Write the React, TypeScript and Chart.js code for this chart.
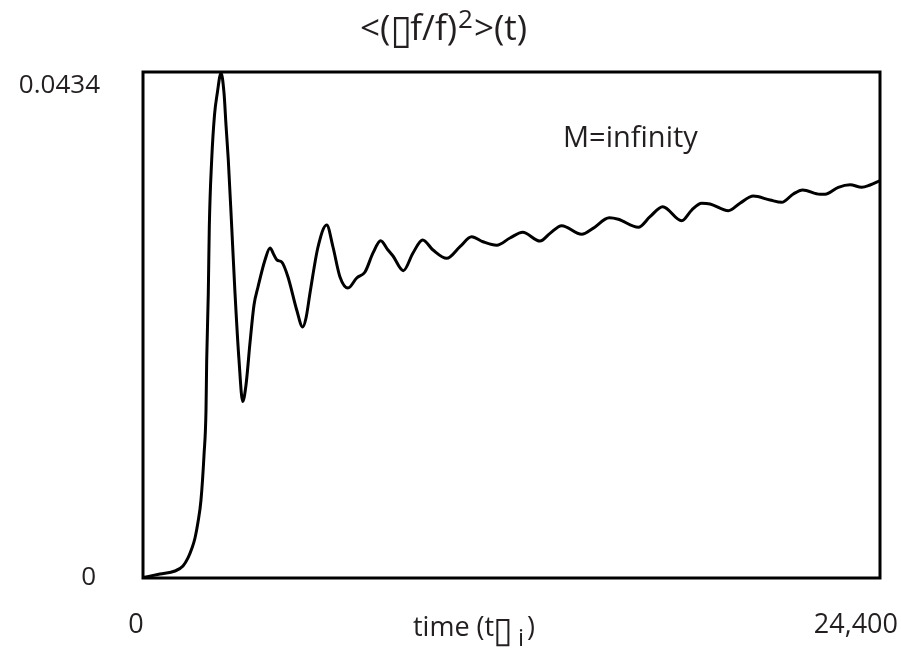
import React, { useEffect, useRef } from "react";
import { Chart, registerables } from "chart.js";

Chart.register(...registerables);

// time (in units of 1/omega_i)
const times: number[] = [
  0, 563, 1059, 1324, 1490, 1622, 1722, 1821, 1920, 2020, 2086, 2109, 2162, 2195, 2274, 2367,
  2460, 2583, 2682, 2748, 2824, 2937, 3046, 3178, 3301, 3410, 3542, 3675, 3807, 4039, 4205,
  4337, 4436, 4592, 4800, 5089, 5287, 5397, 5529, 5794, 6082, 6290, 6522, 6787, 7075, 7350,
  7615, 7869, 8111, 8277, 8618, 8939, 9260, 9601, 10055, 10495, 10882, 11256, 11710, 12150,
  12571, 13144, 13475, 13862, 14524, 14898, 15438, 15736, 16398, 16786, 17206, 17835, 18166,
  18497, 18772, 19378, 19765, 20206, 20759, 21146, 21530, 21841, 22414, 22580, 23020, 23408,
  23795, 24070, 24400,
];

// <(delta f / f)^2>
const fluct: number[] = [
  0.00004, 0.00034, 0.0006, 0.00103, 0.00172, 0.00257, 0.00343, 0.0048, 0.00669, 0.01055,
  0.01441, 0.0187, 0.02444, 0.03011, 0.03585, 0.03971, 0.0416, 0.04331, 0.0416, 0.03885,
  0.03585, 0.03011, 0.02444, 0.0187, 0.01514, 0.01655, 0.02016, 0.02342, 0.02496, 0.02727,
  0.0283, 0.0277, 0.02727, 0.0271, 0.02582, 0.02299, 0.02153, 0.0223, 0.02444, 0.02839,
  0.03028, 0.02839, 0.02582, 0.02487, 0.02573, 0.02625, 0.02788, 0.02893, 0.02813, 0.02762,
  0.02636, 0.02788, 0.02899, 0.02813, 0.02742, 0.02842, 0.02927, 0.02884, 0.02854, 0.02916,
  0.02965, 0.0289, 0.02956, 0.03022, 0.02948, 0.02999, 0.0309, 0.03077, 0.03008, 0.03099,
  0.03185, 0.03065, 0.03156, 0.03214, 0.03208, 0.0315, 0.03214, 0.03276, 0.03242, 0.03222,
  0.03294, 0.03328, 0.03291, 0.03291, 0.03351, 0.03373, 0.03351, 0.03371, 0.03409,
];

const xTickValues: number[] = [0, 24400];
const xTickLabels: string[] = ["0", "24,400"];
const yTickValues: number[] = [0, 0.0434];
const yTickLabels: string[] = ["0", "0.0434"];

const BOX = "\u25AF";
const TEXT_COLOR = "#231f20";
const FONT = '"Open Sans", "DejaVu Sans", sans-serif';
const BOX_FONT = '"DejaVu Sans", sans-serif';

const decorPlugin = {
  id: "decor",
  afterDraw(chart: any) {
    const { ctx, chartArea, scales } = chart;
    const xs = scales.x;
    const ys = scales.y;
    ctx.save();
    // frame
    ctx.strokeStyle = "#000";
    ctx.lineWidth = 3;
    ctx.strokeRect(
      chartArea.left,
      chartArea.top,
      chartArea.right - chartArea.left,
      chartArea.bottom - chartArea.top
    );

    ctx.fillStyle = TEXT_COLOR;
    ctx.textBaseline = "alphabetic";

    // y tick labels
    ctx.font = `26px ${FONT}`;
    ctx.textAlign = "right";
    const yBaseOff = [7, 21];
    const yRight = [96, 100];
    yTickValues.forEach((v, i) => {
      const py = ys.getPixelForValue(v);
      ctx.fillText(yTickLabels[i], yRight[i], py + yBaseOff[i]);
    });

    // x tick labels
    ctx.font = `27px ${FONT}`;
    const xAlign = ["center", "right"];
    const xOff = [-7, 18];
    xTickValues.forEach((v, i) => {
      const px = xs.getPixelForValue(v);
      ctx.textAlign = xAlign[i];
      ctx.fillText(xTickLabels[i], px + xOff[i], chartArea.bottom + 55);
    });

    // x axis title: time (t□ i)
    ctx.textAlign = "left";
    let x = 413;
    const by = 636;
    ctx.font = `27px ${FONT}`;
    const p1 = "time (t";
    ctx.fillText(p1, x, by);
    x += ctx.measureText(p1).width - 1;
    ctx.font = `36px ${BOX_FONT}`;
    ctx.fillText(BOX, x, by + 6);
    x += ctx.measureText(BOX).width + 5;
    ctx.font = `24px ${FONT}`;
    ctx.fillText("i", x, by + 10);
    x += ctx.measureText("i").width + 3;
    ctx.font = `27px ${FONT}`;
    ctx.fillText(")", x, by);

    // chart title: <(□f/f)^2>(t)
    x = 360;
    const ty = 40;
    ctx.font = `35px ${FONT}`;
    const t1 = "<(";
    ctx.fillText(t1, x, ty);
    x += ctx.measureText(t1).width;
    ctx.font = `40px ${BOX_FONT}`;
    ctx.fillText(BOX, x, ty + 3);
    x += ctx.measureText(BOX).width - 2;
    ctx.font = `35px ${FONT}`;
    const t2 = "f/f)";
    ctx.fillText(t2, x, ty);
    x += ctx.measureText(t2).width;
    ctx.font = `26px ${FONT}`;
    ctx.fillText("2", x + 1, ty - 12);
    x += ctx.measureText("2").width + 2;
    ctx.font = `35px ${FONT}`;
    ctx.fillText(">(t)", x, ty);

    // annotation
    ctx.font = `29px ${FONT}`;
    ctx.fillText("M=infinity", 563, 147);
    ctx.restore();
  },
};

export default function App() {
  const canvasRef = useRef<HTMLCanvasElement | null>(null);

  useEffect(() => {
    let chart: Chart | null = null;
    let cancelled = false;
    const make = () => {
      if (cancelled || !canvasRef.current) return;
      chart = new Chart(canvasRef.current, {
        type: "line",
        data: {
          datasets: [
            {
              data: times.map((t, i) => ({ x: t, y: fluct[i] })),
              borderColor: "#000",
              borderWidth: 3,
              pointRadius: 0,
              fill: false,
              cubicInterpolationMode: "monotone",
            },
          ],
        },
        options: {
          responsive: false,
          animation: false,
          events: [],
          layout: { padding: { left: 143, right: 21, top: 72, bottom: 70 } },
          plugins: {
            legend: { display: false },
            title: { display: false },
            tooltip: { enabled: false },
          },
          scales: {
            x: { type: "linear", min: 0, max: 24400, display: false },
            y: { type: "linear", min: 0, max: 0.0434, display: false },
          },
        },
        plugins: [decorPlugin],
      });
    };
    const fonts: any = (document as any).fonts;
    if (fonts && fonts.load) {
      Promise.all([
        fonts.load('26px "Open Sans"'),
        fonts.load('26px "DejaVu Sans"'),
      ]).then(make, make);
    } else {
      make();
    }
    return () => {
      cancelled = true;
      if (chart) chart.destroy();
    };
  }, []);

  return (
    <div
      style={{
        position: "fixed",
        left: 0,
        top: 0,
        width: 901,
        height: 648,
        background: "#fff",
      }}
    >
      <canvas ref={canvasRef} width={901} height={648} style={{ display: "block" }} />
    </div>
  );
}
